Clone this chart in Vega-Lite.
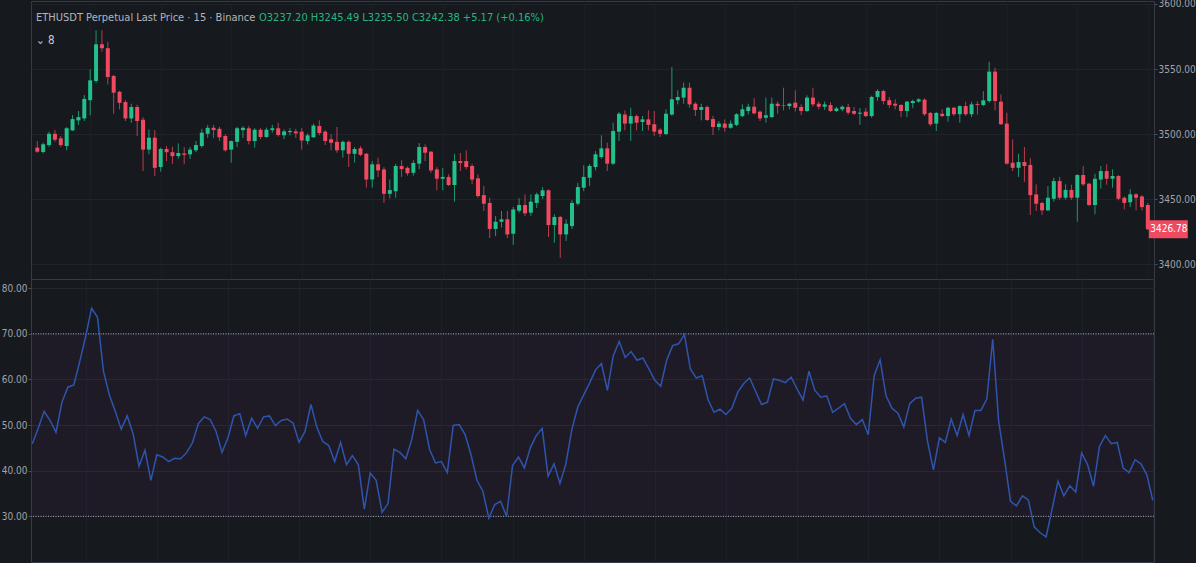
{
"$schema": "https://vega.github.io/schema/vega-lite/v6.json",
"background": "#16191e",
"padding": {"left": 0, "top": -2, "right": 0, "bottom": 0},
"spacing": 0,
"bounds": "flush",
"title": {"text": "O3237.20 H3245.49 L3235.50 C3242.38 +5.17 (+0.16%)", "anchor": "start", "frame": "group", "offset": -25, "dx": 228, "color": "#26b57f", "fontSize": 11, "font": "DejaVu Sans Condensed, Roboto Condensed, Liberation Sans Narrow, Roboto, sans-serif", "fontWeight": "normal"},
"config": {
  "view": {"stroke": "#363a45", "strokeWidth": 1},
  "axis": {"labelFont": "DejaVu Sans Condensed, Roboto Condensed, Liberation Sans Narrow, Roboto, sans-serif", "labelColor": "#a0a3ab", "labelFontSize": 10, "labelPadding": 1, "gridColor": "#1f232b", "tickColor": "#4a4e58", "tickSize": 3, "domain": false, "title": null}
},
"datasets": {"k": [
{"i":1,"o":3489.5,"h":3494.6,"l":3485.5,"c":3486.4,"r":45.9},
{"i":2,"o":3486.2,"h":3493.4,"l":3485.2,"c":3492.1,"r":49.3},
{"i":3,"o":3491.5,"h":3501.8,"l":3490.2,"c":3500.2,"r":53},
{"i":4,"o":3500.2,"h":3503.1,"l":3494.1,"c":3495.6,"r":51},
{"i":5,"o":3496.7,"h":3498.5,"l":3490,"c":3491.5,"r":48.4},
{"i":6,"o":3490.8,"h":3505.4,"l":3487.5,"c":3504.4,"r":55},
{"i":7,"o":3502.8,"h":3514.6,"l":3502.3,"c":3511.5,"r":58.3},
{"i":8,"o":3510.5,"h":3517.7,"l":3507,"c":3513,"r":58.8},
{"i":9,"o":3512,"h":3530,"l":3510,"c":3527,"r":63.9},
{"i":10,"o":3526,"h":3549.8,"l":3514.4,"c":3541.3,"r":69.4},
{"i":11,"o":3540.8,"h":3579.8,"l":3539.2,"c":3569,"r":75.6},
{"i":12,"o":3569,"h":3579.8,"l":3563.3,"c":3566,"r":73.6},
{"i":13,"o":3566,"h":3571,"l":3538.2,"c":3543.8,"r":61.8},
{"i":14,"o":3544.6,"h":3545.5,"l":3515.6,"c":3531.8,"r":56.6},
{"i":15,"o":3532.5,"h":3533.2,"l":3519,"c":3524,"r":53},
{"i":16,"o":3524.6,"h":3526.2,"l":3510,"c":3512,"r":49.1},
{"i":17,"o":3512,"h":3523.3,"l":3508.7,"c":3520.8,"r":52},
{"i":18,"o":3520.8,"h":3522.5,"l":3498.5,"c":3510,"r":48.1},
{"i":19,"o":3511,"h":3513,"l":3471.5,"c":3488,"r":41},
{"i":20,"o":3488,"h":3503.6,"l":3484.4,"c":3497.2,"r":44.5},
{"i":21,"o":3497.2,"h":3503,"l":3467.7,"c":3474,"r":37.9},
{"i":22,"o":3474.6,"h":3489.5,"l":3471,"c":3488.5,"r":43.5},
{"i":23,"o":3488.5,"h":3490.8,"l":3479.2,"c":3486,"r":43},
{"i":24,"o":3486,"h":3490.2,"l":3477,"c":3483,"r":42},
{"i":25,"o":3483,"h":3492.8,"l":3481,"c":3485.4,"r":42.7},
{"i":26,"o":3485,"h":3490,"l":3476.7,"c":3484,"r":42.6},
{"i":27,"o":3484.4,"h":3490,"l":3480.8,"c":3488,"r":43.9},
{"i":28,"o":3487.5,"h":3494.6,"l":3486,"c":3491.5,"r":46.1},
{"i":29,"o":3490.8,"h":3504,"l":3489.5,"c":3501,"r":50.3},
{"i":30,"o":3500.2,"h":3507,"l":3497,"c":3504.8,"r":51.8},
{"i":31,"o":3504.8,"h":3507,"l":3497,"c":3503,"r":51.2},
{"i":32,"o":3504,"h":3505.5,"l":3494.6,"c":3497.5,"r":48.6},
{"i":33,"o":3498.5,"h":3499.8,"l":3486.4,"c":3487.5,"r":44},
{"i":34,"o":3488,"h":3495,"l":3478,"c":3494.6,"r":47.2},
{"i":35,"o":3494,"h":3505.5,"l":3490,"c":3504.4,"r":52},
{"i":36,"o":3503,"h":3506,"l":3497,"c":3504.8,"r":52.5},
{"i":37,"o":3504.4,"h":3506,"l":3492,"c":3494.6,"r":47.7},
{"i":38,"o":3494.6,"h":3504.5,"l":3489.5,"c":3503.3,"r":51.5},
{"i":39,"o":3503.3,"h":3504.5,"l":3496,"c":3497.7,"r":49.3},
{"i":40,"o":3497.7,"h":3505,"l":3497,"c":3503.3,"r":51.8},
{"i":41,"o":3503,"h":3507,"l":3501,"c":3504.4,"r":52},
{"i":42,"o":3504.4,"h":3508.7,"l":3498,"c":3499.2,"r":49.9},
{"i":43,"o":3499,"h":3503.5,"l":3496,"c":3502,"r":51},
{"i":44,"o":3501.5,"h":3504.5,"l":3499,"c":3502.3,"r":51.3},
{"i":45,"o":3502,"h":3504,"l":3497,"c":3500.5,"r":50.4},
{"i":46,"o":3501.8,"h":3504.5,"l":3488,"c":3495,"r":46.2},
{"i":47,"o":3494.6,"h":3500.5,"l":3492,"c":3499,"r":48.6},
{"i":48,"o":3497.5,"h":3508,"l":3497,"c":3506.5,"r":54.5},
{"i":49,"o":3506.2,"h":3510.5,"l":3499,"c":3500.8,"r":49.5},
{"i":50,"o":3501.8,"h":3503,"l":3491.5,"c":3494.6,"r":46.4},
{"i":51,"o":3496,"h":3500,"l":3487.5,"c":3493.3,"r":45.5},
{"i":52,"o":3494,"h":3505.4,"l":3485.6,"c":3487.5,"r":42},
{"i":53,"o":3487.5,"h":3495,"l":3481.8,"c":3494,"r":46.2},
{"i":54,"o":3494,"h":3495,"l":3474.6,"c":3484.8,"r":41.3},
{"i":55,"o":3484.8,"h":3490,"l":3478,"c":3488.5,"r":43.3},
{"i":56,"o":3489,"h":3490.8,"l":3483,"c":3484,"r":41.3},
{"i":57,"o":3484.8,"h":3485.5,"l":3458.7,"c":3465,"r":31.6},
{"i":58,"o":3465,"h":3479.2,"l":3458.7,"c":3476.7,"r":39.5},
{"i":59,"o":3476.7,"h":3481.8,"l":3467,"c":3472,"r":37.9},
{"i":60,"o":3472.8,"h":3474.5,"l":3447,"c":3454,"r":30.9},
{"i":61,"o":3454,"h":3465,"l":3450.5,"c":3456.9,"r":32.8},
{"i":62,"o":3456,"h":3477,"l":3451,"c":3475.4,"r":44.7},
{"i":63,"o":3475.4,"h":3479.8,"l":3467,"c":3473,"r":44},
{"i":64,"o":3474,"h":3475,"l":3468,"c":3469.8,"r":42.6},
{"i":65,"o":3470.2,"h":3479.8,"l":3468,"c":3477.7,"r":46.8},
{"i":66,"o":3477.2,"h":3493,"l":3473,"c":3490,"r":53.2},
{"i":67,"o":3490,"h":3492,"l":3479.2,"c":3485.6,"r":51.2},
{"i":68,"o":3486.4,"h":3487,"l":3470.2,"c":3472,"r":44.7},
{"i":69,"o":3472.8,"h":3474.5,"l":3456.7,"c":3465.6,"r":41.7},
{"i":70,"o":3465.6,"h":3474,"l":3456.7,"c":3467,"r":42},
{"i":71,"o":3467,"h":3469,"l":3460,"c":3460.8,"r":39.6},
{"i":72,"o":3460.8,"h":3484.8,"l":3448,"c":3479.2,"r":49.9},
{"i":73,"o":3479.2,"h":3485.4,"l":3471.5,"c":3477.7,"r":50.1},
{"i":74,"o":3479.2,"h":3487.5,"l":3472.8,"c":3474.6,"r":47.9},
{"i":75,"o":3475.4,"h":3477,"l":3461.3,"c":3465,"r":43.5},
{"i":76,"o":3465.9,"h":3469,"l":3451,"c":3452.3,"r":37.9},
{"i":77,"o":3453,"h":3460,"l":3440.8,"c":3446.4,"r":35.5},
{"i":78,"o":3447,"h":3451,"l":3420,"c":3427,"r":29.6},
{"i":79,"o":3427,"h":3437,"l":3421.5,"c":3432.5,"r":32.6},
{"i":80,"o":3432.5,"h":3440.8,"l":3428,"c":3434.4,"r":33.3},
{"i":81,"o":3434.4,"h":3440.8,"l":3420,"c":3422.8,"r":30},
{"i":82,"o":3423.3,"h":3444,"l":3414.6,"c":3442,"r":41.1},
{"i":83,"o":3441,"h":3450.5,"l":3439.5,"c":3445.4,"r":43},
{"i":84,"o":3445.4,"h":3453.6,"l":3437,"c":3439,"r":40.6},
{"i":85,"o":3439.5,"h":3453.6,"l":3437,"c":3448,"r":45},
{"i":86,"o":3447,"h":3455,"l":3443,"c":3453.6,"r":47.7},
{"i":87,"o":3452.3,"h":3459.2,"l":3450,"c":3456.7,"r":49.3},
{"i":88,"o":3456.7,"h":3457.5,"l":3420.8,"c":3430,"r":38.8},
{"i":89,"o":3430,"h":3438.2,"l":3416.4,"c":3436.2,"r":41.5},
{"i":90,"o":3436.2,"h":3437,"l":3404.8,"c":3422.8,"r":37.2},
{"i":91,"o":3422.8,"h":3434.4,"l":3417.7,"c":3431,"r":41.5},
{"i":92,"o":3429.2,"h":3449,"l":3427,"c":3447,"r":49},
{"i":93,"o":3446.4,"h":3462.5,"l":3445,"c":3459.2,"r":53.9},
{"i":94,"o":3458.7,"h":3476,"l":3456,"c":3467,"r":56.6},
{"i":95,"o":3466.4,"h":3477,"l":3460,"c":3475.4,"r":59.2},
{"i":96,"o":3474.6,"h":3486.9,"l":3472,"c":3484.4,"r":62.1},
{"i":97,"o":3482.3,"h":3499,"l":3481,"c":3489,"r":63.5},
{"i":98,"o":3489,"h":3493.3,"l":3471.5,"c":3477.2,"r":57.6},
{"i":99,"o":3477.2,"h":3508.7,"l":3476,"c":3502.3,"r":65.2},
{"i":100,"o":3501.8,"h":3517,"l":3494.6,"c":3515.6,"r":68.3},
{"i":101,"o":3515,"h":3518.2,"l":3502.8,"c":3508,"r":64.8},
{"i":102,"o":3508,"h":3520.2,"l":3494.6,"c":3513.8,"r":66.1},
{"i":103,"o":3513.8,"h":3515,"l":3502.8,"c":3508.7,"r":64.2},
{"i":104,"o":3509.2,"h":3513.8,"l":3502.3,"c":3511.3,"r":64.7},
{"i":105,"o":3511.3,"h":3518.2,"l":3502.8,"c":3507,"r":62.3},
{"i":106,"o":3507.5,"h":3517.7,"l":3498.5,"c":3501.8,"r":59.8},
{"i":107,"o":3503.3,"h":3504.5,"l":3497.7,"c":3500.2,"r":58.5},
{"i":108,"o":3500,"h":3519,"l":3499,"c":3515.6,"r":64.2},
{"i":109,"o":3515,"h":3551.5,"l":3514,"c":3526.7,"r":67.4},
{"i":110,"o":3526,"h":3533.6,"l":3522.8,"c":3528.5,"r":67.8},
{"i":111,"o":3528,"h":3539.5,"l":3523.3,"c":3535.6,"r":69.8},
{"i":112,"o":3535.6,"h":3539.5,"l":3520.2,"c":3522.8,"r":62.3},
{"i":113,"o":3523.3,"h":3524.5,"l":3513.8,"c":3518.5,"r":60.3},
{"i":114,"o":3518.5,"h":3523.3,"l":3510.5,"c":3520.8,"r":60.8},
{"i":115,"o":3520.8,"h":3522,"l":3510,"c":3510.8,"r":55.5},
{"i":116,"o":3511.5,"h":3514,"l":3499.2,"c":3505.4,"r":52.8},
{"i":117,"o":3505.4,"h":3510,"l":3502.8,"c":3508,"r":53.5},
{"i":118,"o":3508,"h":3511.3,"l":3501.8,"c":3504.8,"r":52.3},
{"i":119,"o":3504.8,"h":3510.5,"l":3504,"c":3508,"r":53.7},
{"i":120,"o":3507,"h":3516,"l":3506,"c":3515.2,"r":57.2},
{"i":121,"o":3513.8,"h":3522.8,"l":3513,"c":3519,"r":59.1},
{"i":122,"o":3517.7,"h":3523.3,"l":3515,"c":3521,"r":60.3},
{"i":123,"o":3521,"h":3527.5,"l":3515,"c":3515.9,"r":57.4},
{"i":124,"o":3517.2,"h":3518,"l":3510,"c":3512,"r":54.5},
{"i":125,"o":3512.5,"h":3528,"l":3508.7,"c":3514.4,"r":55},
{"i":126,"o":3513,"h":3528,"l":3512.5,"c":3523.3,"r":60.1},
{"i":127,"o":3523.3,"h":3525,"l":3515.6,"c":3521.5,"r":59.8},
{"i":128,"o":3522,"h":3535.6,"l":3518.2,"c":3521.5,"r":59.3},
{"i":129,"o":3521.5,"h":3524,"l":3519,"c":3523.3,"r":60.5},
{"i":130,"o":3524.1,"h":3533.6,"l":3517.2,"c":3520.2,"r":57.9},
{"i":131,"o":3520.8,"h":3522.8,"l":3514.6,"c":3517.7,"r":55.5},
{"i":132,"o":3517.7,"h":3529.8,"l":3517,"c":3528,"r":61.8},
{"i":133,"o":3528,"h":3535.6,"l":3521,"c":3522.8,"r":57.6},
{"i":134,"o":3523.3,"h":3525,"l":3519,"c":3521,"r":56.1},
{"i":135,"o":3521,"h":3525,"l":3518.5,"c":3522.8,"r":56.4},
{"i":136,"o":3522.3,"h":3524.5,"l":3517,"c":3517.7,"r":52.8},
{"i":137,"o":3517.7,"h":3521,"l":3517,"c":3519.7,"r":53.7},
{"i":138,"o":3519,"h":3522,"l":3517.5,"c":3521,"r":54.7},
{"i":139,"o":3520.8,"h":3523.3,"l":3515,"c":3516.4,"r":51.5},
{"i":140,"o":3517.7,"h":3520.8,"l":3514.6,"c":3515.6,"r":50.1},
{"i":141,"o":3515.6,"h":3520,"l":3507,"c":3516.4,"r":51.2},
{"i":142,"o":3517.2,"h":3520,"l":3513,"c":3513.8,"r":47.9},
{"i":143,"o":3513.8,"h":3529.5,"l":3512.5,"c":3528.5,"r":60.8},
{"i":144,"o":3528.5,"h":3534.4,"l":3525.5,"c":3533.1,"r":64.3},
{"i":145,"o":3533.1,"h":3534,"l":3522.8,"c":3525.4,"r":56.4},
{"i":146,"o":3526,"h":3528.5,"l":3520.2,"c":3522.3,"r":53.7},
{"i":147,"o":3523.3,"h":3526.7,"l":3519,"c":3521.8,"r":52.6},
{"i":148,"o":3522.3,"h":3523,"l":3513,"c":3517.7,"r":49.6},
{"i":149,"o":3517.7,"h":3525.5,"l":3513,"c":3524.9,"r":54.7},
{"i":150,"o":3523.8,"h":3526.5,"l":3519.8,"c":3525.4,"r":55.9},
{"i":151,"o":3525,"h":3527.5,"l":3524,"c":3526.7,"r":56.1},
{"i":152,"o":3526.4,"h":3527.5,"l":3514,"c":3515.2,"r":46.4},
{"i":153,"o":3516.2,"h":3517,"l":3506,"c":3507.5,"r":40.2},
{"i":154,"o":3508,"h":3517,"l":3502.3,"c":3516.2,"r":47.2},
{"i":155,"o":3515.6,"h":3519,"l":3513,"c":3513.8,"r":46.2},
{"i":156,"o":3513.8,"h":3521,"l":3509.5,"c":3520.2,"r":51.3},
{"i":157,"o":3520.2,"h":3521,"l":3513.8,"c":3515.2,"r":47.7},
{"i":158,"o":3515.2,"h":3522,"l":3508.7,"c":3521.5,"r":52.3},
{"i":159,"o":3521.5,"h":3524.9,"l":3513.8,"c":3515.2,"r":47.7},
{"i":160,"o":3515.2,"h":3524.9,"l":3513,"c":3522.8,"r":53.2},
{"i":161,"o":3523,"h":3525,"l":3515,"c":3522.3,"r":53.2},
{"i":162,"o":3522.3,"h":3533,"l":3521.5,"c":3525.9,"r":55.7},
{"i":163,"o":3525.4,"h":3555.6,"l":3524,"c":3548,"r":68.8},
{"i":164,"o":3548,"h":3551,"l":3518.2,"c":3525.4,"r":50.8},
{"i":165,"o":3524.9,"h":3530.5,"l":3507,"c":3507.5,"r":42.4},
{"i":166,"o":3508,"h":3516.4,"l":3476.5,"c":3477.2,"r":33.3},
{"i":167,"o":3477.9,"h":3495.9,"l":3471.5,"c":3474,"r":32.3},
{"i":168,"o":3474,"h":3484.8,"l":3467,"c":3478.5,"r":34.5},
{"i":169,"o":3478.5,"h":3490,"l":3463.3,"c":3475.4,"r":33.6},
{"i":170,"o":3476.2,"h":3481.3,"l":3437.7,"c":3453,"r":27.7},
{"i":171,"o":3453.6,"h":3461.3,"l":3440.8,"c":3446.4,"r":26.4},
{"i":172,"o":3447,"h":3448,"l":3437.7,"c":3441.3,"r":25.5},
{"i":173,"o":3441.3,"h":3460,"l":3440.8,"c":3451,"r":31.5},
{"i":174,"o":3450.2,"h":3466.4,"l":3448,"c":3463.8,"r":37.7},
{"i":175,"o":3463.8,"h":3467,"l":3449.5,"c":3451,"r":34.5},
{"i":176,"o":3451,"h":3461.3,"l":3449.5,"c":3457,"r":36.7},
{"i":177,"o":3457,"h":3461,"l":3449.5,"c":3451,"r":35.3},
{"i":178,"o":3451,"h":3469,"l":3432.5,"c":3468.5,"r":43.9},
{"i":179,"o":3468.5,"h":3475.4,"l":3460,"c":3461.3,"r":41.3},
{"i":180,"o":3461.8,"h":3462.5,"l":3444.5,"c":3445.4,"r":36.6},
{"i":181,"o":3445.4,"h":3469.5,"l":3438.2,"c":3465.6,"r":45.3},
{"i":182,"o":3465,"h":3475.4,"l":3458,"c":3471.5,"r":47.7},
{"i":183,"o":3471.5,"h":3476.7,"l":3461,"c":3465.6,"r":45.9},
{"i":184,"o":3465.6,"h":3472.8,"l":3458.7,"c":3467.7,"r":46.2},
{"i":185,"o":3467.7,"h":3468.5,"l":3449,"c":3450.2,"r":40.6},
{"i":186,"o":3451,"h":3452,"l":3442,"c":3447,"r":39.6},
{"i":187,"o":3447.5,"h":3457.5,"l":3443.8,"c":3453.6,"r":42.4},
{"i":188,"o":3453.6,"h":3454.5,"l":3441.3,"c":3451,"r":41.5},
{"i":189,"o":3452,"h":3453,"l":3441.3,"c":3443.8,"r":39.1},
{"i":190,"o":3445.4,"h":3447,"l":3426,"c":3426.78,"r":33.5}
]},
"vconcat": [
  {
    "width": 1123,
    "height": 278,
    "data": {"name": "k"},
    "title": {"text": "ETHUSDT Perpetual Last Price · 15 · Binance", "subtitle": "⌄ 8", "anchor": "start", "frame": "group", "offset": -48, "dx": 5, "color": "#b2b5be", "fontSize": 11, "font": "DejaVu Sans Condensed, Roboto Condensed, Liberation Sans Narrow, Roboto, sans-serif", "fontWeight": "normal", "subtitleColor": "#c8cad0", "subtitleFont": "DejaVu Sans Condensed, Roboto, sans-serif", "subtitleFontSize": 11.5, "subtitlePadding": 12},
    "layer": [
      {
        "mark": {"type": "rule", "strokeWidth": 1, "opacity": 0.75},
        "encoding": {
          "x": {"field": "i", "type": "quantitative", "scale": {"domain": [0.78, 190.2], "nice": false, "zero": false},
                "axis": {"grid": true, "labels": false, "ticks": false, "values": [10,22,34,46,58,70,82,94,106,118,130,142,154,166,178,190], "gridColor": "#1a1e25"}},
          "y": {"field": "l", "type": "quantitative", "scale": {"domain": [3388.5, 3602.3], "nice": false, "zero": false},
                "axis": {"orient": "right", "values": [3400,3425,3450,3475,3500,3525,3550,3575,3600], "format": ".2f", "labelBound": false, "labelFlush": false}},
          "y2": {"field": "h"},
          "color": {"condition": {"test": "datum.c >= datum.o", "value": "#22c08a"}, "value": "#f04a60"}
        }
      },
      {
        "mark": {"type": "bar", "width": 4, "minBandSize": 1},
        "encoding": {
          "x": {"field": "i", "type": "quantitative"},
          "y": {"field": "o", "type": "quantitative"},
          "y2": {"field": "c"},
          "color": {"condition": {"test": "datum.c >= datum.o", "value": "#22c08a"}, "value": "#f04a60"}
        }
      },
      {
        "transform": [{"filter": "datum.i == 190"}],
        "mark": {"type": "point", "shape": "M0.05,-0.45L2.0,-0.45L2.0,0.45L0.05,0.45Z", "filled": true, "size": 1600, "color": "#f04a60", "opacity": 1},
        "encoding": {"x": {"field": "i", "type": "quantitative"}, "y": {"field": "c", "type": "quantitative"}}
      },
      {
        "transform": [{"filter": "datum.i == 190"}],
        "mark": {"type": "text", "dx": 21, "align": "center", "baseline": "middle", "color": "#ffffff", "fontSize": 10, "font": "DejaVu Sans Condensed, Roboto Condensed, Liberation Sans Narrow, Roboto, sans-serif"},
        "encoding": {"x": {"field": "i", "type": "quantitative"}, "y": {"field": "c", "type": "quantitative"}, "text": {"field": "c", "type": "quantitative", "format": ".2f"}}
      }
    ]
  },
  {
    "width": 1123,
    "height": 283,
    "layer": [
      {
        "data": {"values": [{"a": 70, "b": 30}]},
        "mark": {"type": "rect", "color": "#59265a", "opacity": 0.15},
        "encoding": {"y": {"field": "a", "type": "quantitative"}, "y2": {"field": "b"}}
      },
      {
        "data": {"values": [{"v": 70}, {"v": 30}]},
        "mark": {"type": "rule", "strokeDash": [1, 1.5], "color": "#a3a6ae", "strokeWidth": 1},
        "encoding": {"y": {"field": "v", "type": "quantitative"}}
      },
      {
        "data": {"name": "k"},
        "mark": {"type": "line", "color": "#2e55ad", "strokeWidth": 1.5},
        "encoding": {
          "x": {"field": "i", "type": "quantitative", "scale": {"domain": [0.78, 190.2], "nice": false, "zero": false},
                "axis": {"grid": true, "labels": false, "ticks": false, "values": [10,22,34,46,58,70,82,94,106,118,130,142,154,166,178,190], "gridColor": "#1c2028"}},
          "y": {"field": "r", "type": "quantitative", "scale": {"domain": [20, 82], "nice": false, "zero": false},
                "axis": {"orient": "left", "values": [30,40,50,60,70,80], "format": ".2f", "gridColor": "#242732"}}
        }
      }
    ]
  }
]
}
